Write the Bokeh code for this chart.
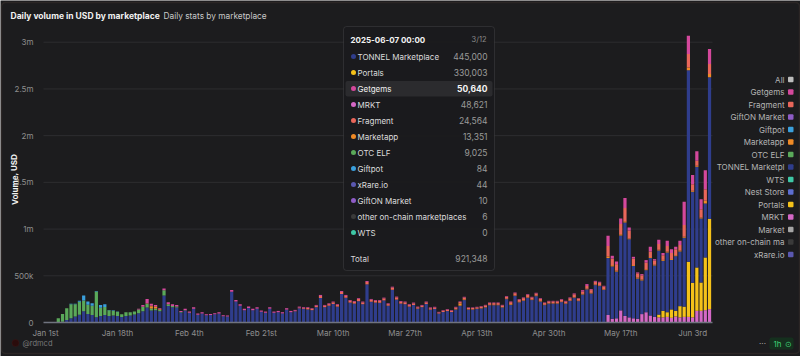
from bokeh.plotting import figure
from bokeh.models import Range1d, FixedTicker, Label, BoxAnnotation, ColumnDataSource
from bokeh.embed import file_html
from bokeh.resources import INLINE

# ---------------- data (daily volume, thousands of USD) ----------------
N_DAYS = 158  # 2025-01-01 .. 2025-06-07
tick_days = [0, 17, 34, 51, 68, 85, 102, 119, 136, 153]
tick_labels = ["Jan 1st", "Jan 18th", "Feb 4th", "Feb 21st", "Mar 10th",
               "Mar 27th", "Apr 13th", "Apr 30th", "May 17th", "Jun 3rd"]
y_ticks = [0, 500000, 1000000, 1500000, 2000000, 2500000, 3000000]
y_tick_labels = ["0", "500k", "1m", "1.5m", "2m", "2.5m", "3m"]

tonnel = [0, 0, 2, 3, 8, 28, 46, 64, 82, 120,
          90, 80, 55, 70, 80, 70, 75, 70, 60, 70,
          75, 85, 100, 120, 160, 128, 130, 120, 290, 176,
          163, 160, 108, 128, 101, 145, 84, 96, 77, 80,
          87, 96, 67, 64, 328, 225, 180, 132, 155, 132,
          148, 115, 104, 148, 104, 110, 97, 138, 110, 120,
          152, 145, 140, 132, 164, 262, 164, 180, 198, 170,
          305, 265, 213, 202, 228, 196, 408, 222, 213, 211,
          236, 180, 350, 245, 202, 196, 170, 187, 148, 164,
          198, 138, 145, 96, 112, 122, 112, 140, 180, 240,
          138, 138, 145, 150, 162, 185, 185, 185, 162, 250,
          190, 285, 216, 232, 264, 240, 282, 225, 186, 202,
          202, 202, 218, 200, 230, 266, 229, 300, 355, 311,
          400, 390, 349, 610, 560, 500, 800, 1000, 835, 560,
          430, 360, 450, 615, 550, 685, 535, 640, 530, 585,
          585, 738, 2050, 975, 1079, 686, 578, 1517]

otc_elf = [0, 0, 3, 43, 84, 125, 150, 130, 140, 115,
           100, 100, 278, 88, 85, 60, 52, 45, 29, 40,
           35, 33, 40, 48, 42, 22, 20, 13, 55, 20,
           14, 12, 4, 4, 3, 3, 0, 0, 0, 0,
           0, 0, 0, 0, 0, 0, 0, 0, 0, 0,
           0, 0, 0, 0, 0, 0, 0, 0, 0, 0,
           0, 0, 0, 0, 0, 0, 0, 0, 0, 0,
           0, 0, 0, 0, 0, 0, 0, 0, 0, 0,
           0, 0, 0, 0, 0, 0, 0, 0, 0, 0,
           0, 0, 0, 0, 0, 0, 0, 0, 0, 0,
           0, 0, 0, 0, 0, 0, 0, 0, 0, 0,
           0, 0, 0, 0, 0, 0, 0, 0, 0, 0,
           0, 0, 0, 0, 0, 0, 0, 0, 0, 0,
           0, 0, 0, 0, 0, 0, 0, 0, 0, 0,
           0, 0, 0, 0, 0, 0, 0, 0, 0, 0,
           0, 0, 0, 0, 0, 0, 0, 0]

giftpot = [0, 0, 0, 0, 0, 0, 4, 6, 12, 55,
           34, 25, 4, 30, 30, 5, 3, 3, 0, 0,
           0, 0, 0, 0, 0, 0, 0, 0, 0, 0,
           0, 0, 0, 0, 0, 0, 0, 0, 0, 0,
           0, 0, 0, 0, 0, 0, 0, 0, 0, 0,
           0, 0, 0, 0, 0, 0, 0, 0, 0, 0,
           0, 0, 0, 0, 0, 0, 0, 0, 0, 0,
           0, 0, 0, 0, 0, 0, 0, 0, 0, 0,
           0, 0, 0, 0, 0, 0, 0, 0, 0, 0,
           0, 0, 0, 0, 0, 0, 0, 0, 0, 0,
           0, 0, 0, 0, 0, 0, 0, 0, 0, 0,
           0, 0, 0, 0, 0, 0, 0, 0, 0, 0,
           0, 0, 0, 0, 0, 0, 0, 0, 0, 0,
           0, 0, 0, 0, 0, 0, 0, 0, 0, 0,
           0, 0, 0, 0, 0, 0, 0, 0, 0, 0,
           0, 0, 0, 0, 0, 0, 0, 0]

marketapp = [0, 0, 0, 0, 0, 0, 0, 0, 0, 0,
             0, 0, 0, 0, 0, 0, 0, 0, 0, 0,
             0, 0, 0, 0, 0, 25, 15, 8, 0, 0,
             0, 0, 0, 0, 0, 0, 0, 0, 0, 0,
             0, 0, 0, 0, 0, 0, 0, 0, 0, 0,
             0, 0, 0, 0, 0, 0, 0, 0, 0, 0,
             0, 0, 0, 0, 0, 0, 0, 0, 0, 0,
             0, 0, 0, 0, 0, 0, 0, 0, 0, 0,
             0, 0, 0, 0, 0, 0, 0, 0, 0, 0,
             0, 0, 0, 0, 0, 0, 0, 5, 25, 8,
             3, 3, 3, 3, 4, 4, 4, 4, 4, 4,
             8, 5, 5, 5, 5, 5, 5, 6, 4, 4,
             4, 4, 4, 4, 5, 5, 5, 6, 6, 6,
             6, 6, 6, 18, 14, 10, 15, 15, 10, 10,
             11, 10, 10, 10, 8, 10, 10, 10, 10, 10,
             10, 10, 30, 10, 10, 10, 28, 36]

fragment = [0, 0, 0, 0, 0, 0, 0, 0, 0, 0,
            0, 0, 0, 0, 0, 0, 0, 0, 0, 0,
            0, 0, 0, 0, 5, 8, 8, 2, 0, 0,
            0, 0, 0, 0, 0, 0, 0, 0, 0, 0,
            0, 0, 0, 0, 0, 0, 0, 0, 0, 0,
            0, 0, 0, 0, 0, 0, 0, 0, 0, 5,
            8, 8, 15, 14, 16, 22, 16, 17, 18, 17,
            22, 20, 20, 20, 24, 20, 26, 22, 20, 22,
            22, 17, 25, 24, 20, 20, 17, 18, 15, 16,
            18, 15, 15, 12, 14, 15, 14, 16, 14, 20,
            14, 14, 14, 16, 17, 19, 19, 19, 17, 21,
            20, 24, 22, 24, 27, 23, 24, 22, 18, 20,
            20, 20, 21, 20, 25, 30, 22, 25, 30, 30,
            30, 30, 30, 110, 70, 70, 110, 140, 85, 70,
            45, 45, 70, 60, 45, 60, 50, 60, 65, 65,
            60, 125, 143, 70, 54, 89, 125, 107]

getgems = [0, 0, 0, 0, 0, 0, 0, 0, 0, 0,
           0, 0, 0, 0, 0, 0, 0, 0, 0, 0,
           0, 0, 6, 20, 45, 17, 15, 10, 20, 20,
           18, 16, 12, 14, 13, 15, 12, 14, 12, 12,
           13, 14, 11, 11, 20, 16, 15, 14, 15, 14,
           15, 13, 13, 15, 13, 14, 13, 15, 14, 10,
           10, 10, 8, 7, 8, 11, 8, 8, 8, 8,
           10, 10, 8, 8, 8, 8, 10, 8, 8, 8,
           8, 8, 8, 8, 8, 8, 8, 8, 7, 8,
           8, 8, 8, 6, 6, 6, 6, 7, 6, 7,
           6, 6, 6, 6, 6, 6, 6, 6, 6, 7,
           7, 7, 7, 7, 7, 7, 7, 7, 6, 6,
           6, 6, 7, 8, 8, 10, 5, 15, 20, 10,
           10, 10, 8, 110, 30, 28, 59, 107, 33, 18,
           10, 13, 28, 50, 15, 45, 23, 55, 40, 25,
           45, 250, 196, 100, 100, 107, 203, 160]

portals = [0, 0, 0, 0, 0, 0, 0, 0, 0, 0,
           0, 0, 0, 0, 0, 0, 0, 0, 0, 0,
           0, 0, 0, 0, 0, 0, 0, 0, 0, 0,
           0, 0, 0, 0, 0, 0, 0, 0, 0, 0,
           0, 0, 0, 0, 0, 0, 0, 0, 0, 0,
           0, 0, 0, 0, 0, 0, 0, 0, 0, 0,
           0, 0, 0, 0, 0, 0, 0, 0, 0, 0,
           0, 0, 0, 0, 0, 0, 0, 0, 0, 0,
           0, 0, 0, 0, 0, 0, 0, 0, 0, 0,
           0, 0, 0, 0, 0, 0, 0, 0, 0, 0,
           0, 0, 0, 0, 0, 0, 0, 0, 0, 0,
           0, 0, 0, 0, 0, 0, 0, 0, 0, 0,
           0, 0, 0, 0, 0, 0, 0, 0, 0, 0,
           0, 0, 0, 0, 0, 0, 0, 0, 0, 0,
           0, 0, 0, 0, 0, 30, 70, 50, 90, 60,
           120, 110, 590, 370, 464, 303, 564, 964]

mrkt = [0, 0, 0, 0, 0, 0, 0, 0, 0, 0,
        0, 0, 0, 0, 0, 0, 0, 0, 0, 0,
        0, 0, 0, 0, 0, 0, 0, 0, 0, 0,
        0, 0, 0, 0, 0, 0, 0, 0, 0, 0,
        0, 0, 0, 0, 0, 0, 0, 0, 0, 0,
        0, 0, 0, 0, 0, 0, 0, 0, 0, 0,
        0, 0, 0, 0, 0, 0, 0, 0, 0, 0,
        0, 0, 0, 0, 0, 0, 0, 0, 0, 0,
        0, 0, 0, 0, 0, 0, 0, 0, 0, 0,
        0, 0, 0, 0, 0, 0, 0, 0, 0, 0,
        0, 0, 0, 0, 0, 0, 0, 0, 0, 0,
        0, 0, 0, 0, 0, 0, 0, 0, 0, 0,
        0, 0, 0, 0, 0, 0, 0, 0, 0, 0,
        0, 0, 0, 80, 40, 45, 130, 70, 55, 45,
        40, 90, 110, 75, 60, 55, 55, 60, 50, 65,
        55, 60, 60, 55, 125, 125, 132, 143]

# stacking order, bottom -> top
stack_names = ["MRKT", "Portals", "TONNEL Marketplace", "OTC ELF", "Marketapp",
               "Giftpot", "Fragment", "Getgems"]
stack_values = [mrkt, portals, tonnel, otc_elf, marketapp, giftpot, fragment, getgems]
stack_colors = ["#d468c6", "#f4c11a", "#2f3d8c", "#5aa95a", "#ef8a26",
                "#3a9fdc", "#e8665a", "#d4489c"]

legend_names = ["All", "Getgems", "Fragment", "GiftON Market", "Giftpot", "Marketapp",
                "OTC ELF", "TONNEL Marketpl", "WTS", "Nest Store", "Portals", "MRKT",
                "Market", "other on-chain ma", "xRare.io"]
legend_colors = ["#bdbdbd", "#d4489c", "#e8665a", "#8e5cc6", "#3a9fdc", "#ef8a26",
                 "#5aa95a", "#2f3d8c", "#3ec7a6", "#5d6ed0", "#f4c11a", "#d468c6",
                 "#a5a5a5", "#3a3a3a", "#5a58b0"]

tip_title = "2025-06-07 00:00"
tip_page = "3/12"
tip_names = ["TONNEL Marketplace", "Portals", "Getgems", "MRKT", "Fragment", "Marketapp",
             "OTC ELF", "Giftpot", "xRare.io", "GiftON Market",
             "other on-chain marketplaces", "WTS"]
tip_values = ["445,000", "330,003", "50,640", "48,621", "24,564", "13,351",
              "9,025", "84", "44", "10", "6", "0"]
tip_colors = ["#2f3d8c", "#f4c11a", "#d4489c", "#d468c6", "#e8665a", "#ef8a26",
              "#5aa95a", "#3a9fdc", "#5a58b0", "#8e5cc6", "#3a3a3a", "#3ec7a6"]
tip_total = "921,348"

for arr in stack_values:
    assert len(arr) == N_DAYS, len(arr)

# ---------------- figure ----------------
W, H = 800, 356
FL, FR, FT, FB = 43, 712, 22, 322   # data-area edges (canvas px)
DAY_L, DAY_R = -0.5, 157.7
Y_TOP = 3.211e6
PX_X = (DAY_R - DAY_L) / (FR - FL)
PX_Y = Y_TOP / (FB - FT)
BG = "#1c1c1e"

p = figure(width=W, height=H, output_backend="svg", toolbar_location=None,
           x_range=Range1d(DAY_L - FL * PX_X, DAY_R + (W - FR) * PX_X),
           y_range=Range1d(-(H - FB) * PX_Y, Y_TOP + FT * PX_Y),
           min_border=0, min_border_left=0, min_border_right=0,
           min_border_top=0, min_border_bottom=0)
p.background_fill_color = BG
p.border_fill_color = BG
p.outline_line_color = None

data = {"day": list(range(N_DAYS))}
for name, vals in zip(stack_names, stack_values):
    data[name] = [v * 1000 for v in vals]
src = ColumnDataSource(data)

# horizontal grid lines across the data area only
p.xgrid.grid_line_color = None
p.ygrid.grid_line_color = None
p.segment(x0=DAY_L, x1=DAY_R, y0=y_ticks[1:], y1=y_ticks[1:],
          line_color="#2d2d30", line_width=1)

p.vbar_stack(stack_names, x="day", width=0.76, source=src,
             fill_color=stack_colors, line_color=None)

# baseline
p.segment(x0=[DAY_L], x1=[DAY_R], y0=[0], y1=[0], line_color="#70737f", line_width=1.5)

# axes placed at the data-area edges
p.xaxis.fixed_location = 0
p.yaxis.fixed_location = DAY_L
p.xaxis.ticker = FixedTicker(ticks=tick_days)
p.xaxis.major_label_overrides = {d: s for d, s in zip(tick_days, tick_labels)}
p.yaxis.ticker = FixedTicker(ticks=y_ticks)
p.yaxis.major_label_overrides = {v: s for v, s in zip(y_ticks, y_tick_labels)}
for ax in (p.xaxis, p.yaxis):
    ax.axis_line_color = None
    ax.major_tick_line_color = None
    ax.minor_tick_line_color = None
    ax.major_label_text_font = "Inter"
    ax.major_label_text_font_size = "8px"
    ax.major_label_text_color = "#8e8e8e"
p.xaxis.major_label_standoff = -1
p.yaxis.major_label_standoff = 4


def txt(X, Y, s, size=8, color="#9a9a9a", align="left", bold=False, angle=0):
    p.add_layout(Label(x=X, y=H - Y, x_units="screen", y_units="screen", text=s,
                       text_font="Inter", text_font_size=f"{size}px", text_color=color,
                       text_align=align, text_baseline="middle",
                       text_font_style="bold" if bold else "normal", angle=angle))


def box(X0, Y0, X1, Y1, fill, line=None, radius=0, lw=1, alpha=1.0):
    p.add_layout(BoxAnnotation(left=X0, right=X1, top=H - Y0, bottom=H - Y1,
                               left_units="screen", right_units="screen",
                               top_units="screen", bottom_units="screen",
                               fill_color=fill, fill_alpha=alpha if fill else 0,
                               line_color=line, line_width=lw, border_radius=int(radius)))


# outer panel border
box(1, 2, 799, 353, None, line="#4e3f38", radius=4, lw=1.5)

# titles
txt(10, 15, "Daily volume in USD by marketplace", size=8.5, color="#f2f2f2", bold=True)
txt(163, 15, "Daily stats by marketplace", size=8.3, color="#c8c8c8")
txt(14, 179, "Volume, USD", size=8, color="#f0f0f0", bold=True, angle=1.5708, align="center")

# legend (right side)
for i, (nm, c) in enumerate(zip(legend_names, legend_colors)):
    yy = 79 + i * 12.5
    txt(784, yy, nm, size=8, color="#b4b4b4", align="right")
    box(787.5, yy - 2.8, 793, yy + 2.7, c, radius=1)

# tooltip overlay
box(343, 26, 494, 270, "#1b1b1d", line="#5c5c60", radius=3, lw=1, alpha=0.97)
txt(350, 39, tip_title, size=8, color="#f2f2f2", bold=True)
txt(486, 39, tip_page, size=7.5, color="#8a8a8a", align="right")
box(345, 80.5, 492, 96, "#2b2b2e", radius=2)
for i, (nm, v, c) in enumerate(zip(tip_names, tip_values, tip_colors)):
    yy = 56 + i * 16
    box(350.5, yy - 2.5, 355.5, yy + 2.5, c, radius=3)
    hl = nm == "Getgems"
    txt(357, yy, nm, size=8, color="#f0f0f0" if hl else "#dcdcdc")
    txt(487, yy, v, size=8.5, color="#f4f4f4" if hl else "#9a9a9a", align="right", bold=hl)
txt(350, 258, "Total", size=8, color="#d8d8d8")
txt(487, 258, tip_total, size=8.5, color="#9a9a9a", align="right")

# footer
box(11.5, 339, 18.5, 346, "#2a0c0c", line="#4a1a1a", radius=4)
txt(22, 343, "@rdmcd", size=7.5, color="#7a7a7a")
txt(762, 342, "···", size=8, color="#b0b0b0", align="center")
box(769, 337, 793, 349, "#15301e", radius=2)
txt(773, 343, "1h", size=8, color="#3fcf74")
txt(788, 343, "⊙", size=8, color="#3fcf74", align="center")

open("out.html", "w").write(file_html(p, INLINE))
